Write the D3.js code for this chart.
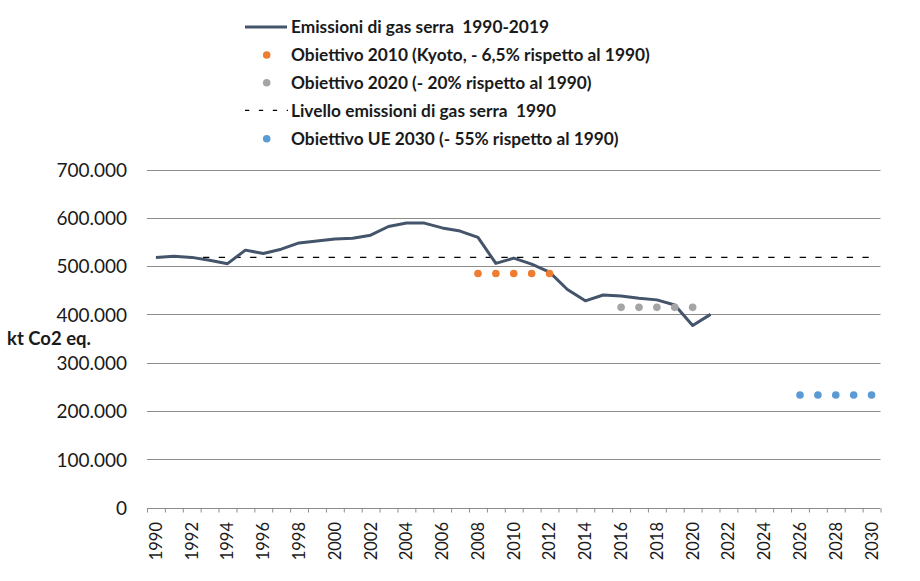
<!DOCTYPE html>
<html>
<head>
<meta charset="utf-8">
<script src="https://cdn.jsdelivr.net/npm/d3@7"></script>
<style>
  body { margin: 0; background: #fff; }
  svg text { font-family: Lato, "Noto Sans", sans-serif; fill: #1a1a1a; white-space: pre; }
</style>
</head>
<body>
<div id="chart"></div>
<script>
// anni dell'asse categorie
const years = d3.range(1990, 2031);
const labelYears = d3.range(1990, 2031, 2);

// Emissioni di gas serra (kt CO2 eq.), 1990-2021
const emissionYears = d3.range(1990, 2022);
const emissions = [
  518000, 520500, 518000, 512000, 505000, 533000, 526000, 535000, 548000, 552000,
  556000, 557500, 564000, 582000, 589000, 589000, 579000, 572500, 559500, 505500,
  516500, 504000, 487500, 451500, 428000, 440000, 438000, 433500, 430000, 419500,
  377000, 400000
];

// obiettivi
const kyotoYears = [2008, 2009, 2010, 2011, 2012];
const kyotoValues = [484500, 484500, 484500, 484500, 484500];
const target2020Years = [2016, 2017, 2018, 2019, 2020];
const target2020Values = [414500, 414500, 414500, 414500, 414500];
const target2030Years = [2026, 2027, 2028, 2029, 2030];
const target2030Values = [233000, 233000, 233000, 233000, 233000];

// livello 1990
const level1990Years = [1990, 2030];
const level1990 = [518000, 518000];

const yTicks = [0, 100000, 200000, 300000, 400000, 500000, 600000, 700000];

const legendItems = [
  {label: "Emissioni di gas serra  1990-2019", type: "line"},
  {label: "Obiettivo 2010 (Kyoto, - 6,5% rispetto al 1990)", type: "dot", color: "#ED7D31"},
  {label: "Obiettivo 2020 (- 20% rispetto al 1990)", type: "dot", color: "#A5A5A5"},
  {label: "Livello emissioni di gas serra  1990", type: "dash"},
  {label: "Obiettivo UE 2030 (- 55% rispetto al 1990)", type: "dot", color: "#5B9BD5"}
];

const W = 920, H = 581;
const m = {top: 169.5, right: 39.5, bottom: 73.5, left: 147};

const svg = d3.select("#chart").append("svg")
  .attr("width", W).attr("height", H)
  .attr("viewBox", [0, 0, W, H]);

const x = d3.scaleBand().domain(years).range([m.left, W - m.right]);
const xEdge = d3.scaleLinear().domain([1990, 2031]).range([m.left, W - m.right]);
const y = d3.scaleLinear().domain([0, 700000]).range([H - m.bottom, m.top]);
const cx = d => x(d) + x.bandwidth() / 2;

const itFormat = d3.formatLocale({decimal: ",", thousands: ".", grouping: [3], currency: ["", "€"]}).format(",d");

// griglia orizzontale
svg.append("g")
  .selectAll("line")
  .data(yTicks.slice(1))
  .join("line")
  .attr("x1", m.left).attr("x2", W - m.right)
  .attr("y1", d => Math.round(y(d)) + 0.5).attr("y2", d => Math.round(y(d)) + 0.5)
  .attr("stroke", "#8c8c8c").attr("stroke-width", 1);

// asse y (solo etichette)
const yAxis = svg.append("g")
  .attr("transform", `translate(${m.left},0)`)
  .call(d3.axisLeft(y).tickValues(yTicks).tickSize(0).tickPadding(20).tickFormat(itFormat));
yAxis.select(".domain").remove();
yAxis.selectAll("text").style("font-size", "19px").attr("dy", "0.36em");

// asse x: tacche tra le categorie
const xTicks = svg.append("g")
  .attr("transform", `translate(0,${Math.round(H - m.bottom) + 0.5})`)
  .call(d3.axisBottom(xEdge).tickValues(d3.range(1990, 2032)).tickSize(4).tickFormat(""));
xTicks.selectAll("path, line").attr("stroke", "#8c8c8c");
xTicks.select(".domain").attr("d", `M${m.left},0H${W - m.right}`);

// etichette anni
const xAxis = svg.append("g")
  .attr("transform", `translate(0,${H - m.bottom})`)
  .call(d3.axisBottom(x).tickValues(labelYears).tickSize(0));
xAxis.select(".domain").remove();
xAxis.selectAll("text")
  .attr("transform", "rotate(-90)")
  .attr("x", -14.5).attr("y", 0).attr("dy", "0.36em")
  .style("text-anchor", "end")
  .style("font-size", "16.5px");

// titolo asse y
svg.append("text")
  .attr("x", 7).attr("y", 345)
  .style("font-size", "18.5px").style("font-weight", "bold")
  .text("kt Co2 eq.");

// livello 1990 tratteggiato
svg.append("path")
  .datum(level1990Years.map((d, i) => [d, level1990[i]]))
  .attr("fill", "none").attr("stroke", "#000").attr("stroke-width", 1.2)
  .attr("stroke-dasharray", "6.3,9.4")
  .attr("d", d3.line().x(d => cx(d[0])).y(d => y(d[1])));

// serie emissioni
svg.append("path")
  .datum(emissionYears.map((d, i) => [d, emissions[i]]))
  .attr("fill", "none").attr("stroke", "#44546A").attr("stroke-width", 3)
  .attr("stroke-linejoin", "round")
  .attr("d", d3.line().x(d => cx(d[0])).y(d => y(d[1])));

// obiettivi (punti)
const dotSeries = [
  {yrs: kyotoYears, vals: kyotoValues, color: "#ED7D31"},
  {yrs: target2020Years, vals: target2020Values, color: "#A5A5A5"},
  {yrs: target2030Years, vals: target2030Values, color: "#5B9BD5"}
];
dotSeries.forEach(s => {
  svg.append("g")
    .selectAll("circle")
    .data(s.yrs.map((d, i) => [d, s.vals[i]]))
    .join("circle")
    .attr("cx", d => cx(d[0])).attr("cy", d => y(d[1]))
    .attr("r", 3.8).attr("fill", s.color);
});

// legenda
const legend = svg.append("g");
const rowY = [27, 55, 82.7, 110.3, 138.7];
legendItems.forEach((it, i) => {
  const g = legend.append("g").attr("transform", `translate(0,${rowY[i]})`);
  if (it.type === "line") {
    g.append("line").attr("x1", 245).attr("x2", 287).attr("y1", 0).attr("y2", 0)
      .attr("stroke", "#44546A").attr("stroke-width", 3);
  } else if (it.type === "dash") {
    g.append("line").attr("x1", 245).attr("x2", 288).attr("y1", 0).attr("y2", 0)
      .attr("stroke", "#000").attr("stroke-width", 1.2).attr("stroke-dasharray", "4.3,9.6");
  } else {
    g.append("circle").attr("cx", 266.7).attr("cy", 0).attr("r", 3.8).attr("fill", it.color);
  }
  g.append("text").attr("x", 291).attr("y", 0).attr("dy", "0.36em")
    .style("font-size", "17.3px").style("font-weight", "bold")
    .text(it.label);
});
</script>
</body>
</html>
